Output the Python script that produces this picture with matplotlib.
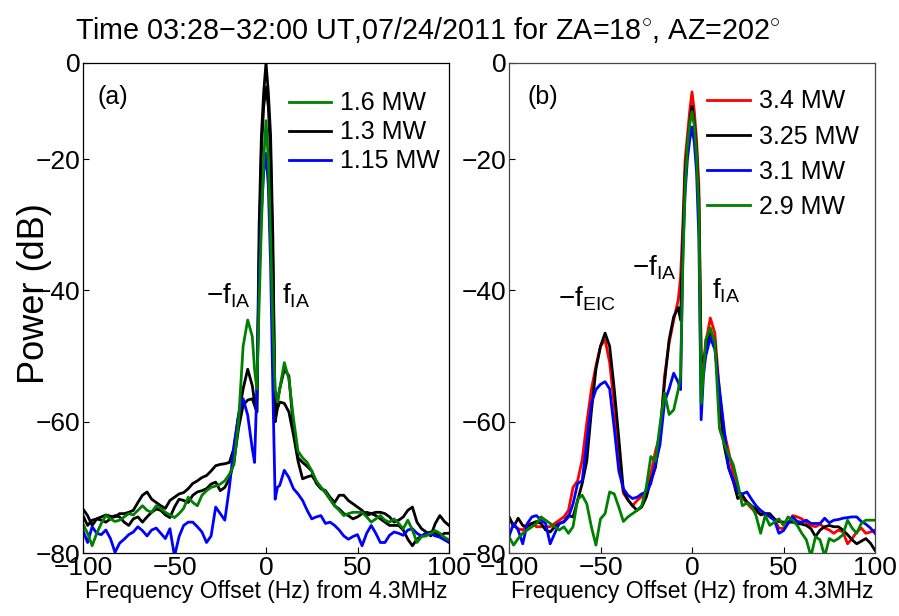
import numpy as np
import matplotlib
matplotlib.use("Agg")
import matplotlib.pyplot as plt

plt.rcParams['font.family'] = ['Liberation Sans', 'DejaVu Sans']
plt.rcParams['mathtext.fontset'] = 'custom'
plt.rcParams['mathtext.rm'] = 'Liberation Sans'
plt.rcParams['mathtext.it'] = 'Liberation Sans:italic'
plt.rcParams['axes.unicode_minus'] = True

# Frequency grid (Hz offset from 4.3 MHz): 2.5 Hz in the wings, 1.25 Hz around the carrier
freq = np.concatenate([np.arange(-100, -9.9, 2.5),
                       np.arange(-7.5, 7.51, 1.25),
                       np.arange(10, 100.1, 2.5)])

# ---- Panel (a) spectra, dB ----
p16 = [-75.6, -77, -78.9, -77, -75.5, -74.3, -74.8, -75.2, -75, -74.5,
       -74, -74.2, -73.5, -72.8, -73.5, -73.8, -72.8, -73.2, -73.8, -74.2,
       -74.6, -74, -73.2, -71.5, -72.3, -72.8, -71.2, -70.5, -70, -69.8,
       -69.5, -69, -68, -66.5, -60, -48.5, -44.5,
       -47, -52, -55, -42, -30, -20, -12, -20, -32, -45, -55, -57, -55,
       -51, -53.5, -59.5, -64.5, -65.5, -66.2, -67.5, -69, -70, -70.7,
       -71.8, -72.8, -73.5, -74.3, -74, -73.8, -73.8, -73.8, -74.5, -75.3,
       -74.8, -74.3, -75, -75.3, -74.8, -75.5, -76.3, -75, -76.5, -78.4,
       -77.5, -77.4, -77, -76.6, -77, -77.6, -78]

p13a = [-73.3, -74.3, -75.8, -74.8, -74.5, -74.2, -74.4, -74.5, -74, -74,
        -73.8, -73.5, -72.3, -71.2, -70.7, -71.8, -72.3, -72.8, -73.2, -72,
        -71.5, -71, -70.8, -70.2, -69.4, -69, -68.5, -68.2, -67.5, -66.7,
        -66.5, -66.4, -66.2, -64, -59, -55, -52,
        -54.5, -57, -58.5, -30, -15, -6, 0, -6, -15, -32, -59.5, -57, -55,
        -52, -53, -61, -65.5, -66.2, -66.8, -67.5, -69.4, -70.2, -70.5,
        -71.5, -72.3, -71.2, -71.2, -72, -72.5, -73, -73.5, -74.3, -74,
        -73.8, -73.8, -74, -74.5, -75.3, -75, -74.5, -73.5, -73, -75.3,
        -76.3, -76.8, -77.4, -75.5, -74.3, -75.2, -75.8]

p13b = [-74.3, -75.8, -75, -74.8, -75, -75.3, -74.8, -74.3, -74.5, -75.3,
        -75.8, -74.8, -74.5, -75.3, -74.5, -73.8, -73.3, -73.5, -74.2, -74.6,
        -73, -71.8, -72, -72.3, -71.2, -70.7, -70.5, -70.2, -69.5, -69.2,
        -70.5, -70, -68.7, -66, -61, -57.5, -56.7,
        -56.5, -57.5, -58.5, -35, -18, -9, -5, -9, -19, -36, -60, -58, -57,
        -57.2, -58.5, -62, -66, -68.7, -68.4, -68.2, -69.2, -70, -70.8,
        -71.8, -72.8, -73.3, -74, -74.3, -74.8, -74.5, -74, -73.8, -74,
        -74.3, -74.8, -75.3, -75.8, -75.8, -75.8, -76.5, -77.9, -78.9, -77.9,
        -77.4, -77, -76.8, -77, -77.4, -77, -77]

p115 = [-76.6, -78.4, -76, -77, -77.2, -76.5, -77.8, -79.9, -78.5, -77.9,
        -77.2, -76.8, -76, -76.6, -77.4, -76.5, -76.2, -77, -77.8, -76.3,
        -80.5, -77.5, -75.8, -75.3, -75.3, -76, -76.8, -78.4, -77.4, -73,
        -74, -75, -70, -63.6, -59, -56.5, -59,
        -64.1, -66.2, -55, -38, -28, -22, -18.8, -24, -36, -55, -71.8, -70, -69.7,
        -67.4, -68.5, -70.2, -71, -72, -73.5, -74.8, -74.5, -74.3, -75.5,
        -75.3, -75.8, -76.5, -77.4, -77.9, -77.5, -77.2, -78.9, -77, -75.8,
        -77, -78.4, -78.4, -77.3, -76.8, -77, -77.3, -76.5, -76.3, -77,
        -77.4, -77, -77.1, -77.4, -77.6, -78, -78.4]

# ---- Panel (b) spectra, dB ----
p34 = [-74.5, -75.8, -76.3, -76.5, -75.6, -75.5, -76, -76, -76, -76,
       -75.5, -75, -74.5, -73.5, -70, -69, -65.8, -60.2, -55.1, -51.5,
       -48.5, -47.5, -51, -57.5, -65.5, -70.9, -71.9, -72.8, -72, -71.4,
       -70.5, -68, -64.5, -62, -53, -48, -44.5,
       -41.4, -38, -30, -20, -15, -10, -6, -10, -16, -24, -50, -52.5, -48,
       -44.2, -46.5, -55.5, -61.5, -64.5, -68, -70.5, -71.6, -72.4, -73.2,
       -73.8, -74, -74, -74.2, -74.8, -76.2, -76.3, -75.5, -74.3, -74.5,
       -74.8, -75.4, -75.8, -76, -75.6, -76.2, -76.5, -77, -76.5, -76.8,
       -78.6, -77.8, -76.8, -76.2, -77, -76.8, -76.5]

p325 = [-74.5, -76, -74.7, -75.8, -76, -75.5, -75.2, -75.5, -76.5, -76.8,
        -76, -75.5, -75.2, -74.3, -74.5, -72, -69.4, -66, -58.5, -52,
        -48.5, -46.5, -48.5, -55, -62.5, -70.5, -71.9, -72.8, -73.5, -73,
        -71.5, -69, -67, -62, -54, -47.5, -44,
        -42.6, -44.5, -32, -22, -17, -12.5, -9, -12.5, -18, -26, -51, -50.5, -49,
        -46.2, -48, -57, -63.5, -67, -69, -71.7, -71.2, -72.2, -72.8,
        -73.3, -74.2, -74, -74, -74.8, -75.2, -75.3, -75.3, -75.3, -75.5,
        -75.6, -75.8, -76.3, -77.5, -76.5, -76, -75.8, -76, -76, -76.5,
        -77.2, -78, -78.6, -78.2, -77.8, -78.5, -79.6]

p31 = [-77.5, -75.5, -76.5, -78.6, -75.5, -74.5, -74.3, -75, -75.5, -78.6,
       -77, -75.5, -75.3, -74.5, -72.5, -69.4, -69, -63, -57.2, -55.1,
       -54.3, -53.9, -55, -61, -67.5, -70.2, -71.2, -71.7, -71.5, -71,
       -70.7, -69.4, -66.5, -63.5, -57, -55, -52.6,
       -54, -55.1, -34, -25, -20, -16, -13.3, -16.5, -22, -32, -59.7, -53, -50,
       -47.2, -49, -55, -61, -67, -69, -70.7, -71, -70.7, -71.8,
       -72.8, -73.5, -74, -74.5, -75, -77, -76.6, -75.5, -74.5, -75.2,
       -75.3, -75, -75.5, -75.5, -75.5, -74.7, -75.4, -75, -74.9, -74.7,
       -74.6, -74.5, -74.5, -75.2, -75.6, -76.2, -77]

p29 = [-77.5, -78.8, -77.8, -77, -76.5, -76, -75.5, -74.5, -75, -75.5,
       -76, -76.5, -76, -77, -76, -71.8, -71.2, -72.5, -76, -78.8,
       -74.8, -74, -70.7, -71, -73, -75.2, -74.5, -74, -73.5, -72.8,
       -70, -65.3, -66, -60.5, -55.6, -58.9, -58.2,
       -55.1, -53, -36, -24, -17, -12.5, -10.1, -13, -19, -28, -57.2, -52.5, -47.5,
       -45.7, -48, -61, -63.3, -65, -66.5, -69.4, -72.8, -72.4, -72.8,
       -74.3, -77, -74.3, -75.8, -75.3, -74.8, -75.8, -74.5, -75, -75.8,
       -77, -78, -80.5, -77.5, -78, -80.5, -77.8, -78.2, -77.8, -77.2,
       -75, -76.2, -77, -75.5, -75, -75, -75]

legend_a = ['1.6 MW', '1.3 MW', '1.15 MW']
legend_b = ['3.4 MW', '3.25 MW', '3.1 MW', '2.9 MW']
xticks = [-100, -50, 0, 50, 100]
yticks = [-80, -60, -40, -20, 0]

GREEN, BLUE, RED, BLACK = '#008000', '#0000ff', '#ff0000', '#000000'
LW = 2.0


# Power axis: the band above -20 dB is drawn compressed
K = 96.0 / 131.0


def fwd(y):
    y = np.asarray(y, dtype=float)
    return np.where(y > -20, -20 + (y + 20) * K, y)


def inv(y):
    y = np.asarray(y, dtype=float)
    return np.where(y > -20, -20 + (y + 20) / K, y)


fig = plt.figure(figsize=(8.99, 6.16), dpi=100)
W, H = 899.0, 616.0
axa = fig.add_axes([83 / W, 1 - 553 / H, 366 / W, 490 / H])
axb = fig.add_axes([509 / W, 1 - 553 / H, 366 / W, 490 / H])

for ax, spine_col in ((axa, 'black'), (axb, '#444444')):
    ax.set_yscale('function', functions=(fwd, inv))
    ax.set_xlim(-100, 100)
    ax.set_ylim(-80, 0)
    ax.set_xticks(xticks)
    ax.set_yticks(yticks)
    ax.set_xticklabels([str(t).replace('-', '\u2212') for t in xticks])
    ax.set_yticklabels([str(t).replace('-', '\u2212') for t in yticks])
    ax.minorticks_off()
    ax.tick_params(direction='in', length=4, width=0.8, labelsize=19, pad=2,
                   colors='black')
    for s in ax.spines.values():
        s.set_color(spine_col)
        s.set_linewidth(0.9)
    ax.set_xlabel('Frequency Offset (Hz) from 4.3MHz', fontsize=16.5, labelpad=0)

# Panel (a)
l13a, = axa.plot(freq, p13a, color=BLACK, lw=LW)
axa.plot(freq, p13b, color=BLACK, lw=LW)
l115, = axa.plot(freq, p115, color=BLUE, lw=LW)
l16, = axa.plot(freq, p16, color=GREEN, lw=LW)
axa.legend([l16, l13a, l115], legend_a, loc='upper right',
           bbox_to_anchor=(0.975, 0.942), frameon=False, fontsize=18,
           handlelength=1.7, handletextpad=0.35, labelspacing=0.2,
           borderpad=0, borderaxespad=0)
axa.text(0.04, 0.93, '(a)', transform=axa.transAxes, fontsize=18,
         ha='left', va='center')
axa.text(-33, -42, '\u2212f$_{\\mathrm{IA}}$', fontsize=20, ha='left', va='baseline')
axa.text(8.5, -42, 'f$_{\\mathrm{IA}}$', fontsize=20, ha='left', va='baseline')

# Panel (b)
l34, = axb.plot(freq, p34, color=RED, lw=LW)
l325, = axb.plot(freq, p325, color=BLACK, lw=LW)
l31, = axb.plot(freq, p31, color=BLUE, lw=LW)
l29, = axb.plot(freq, p29, color=GREEN, lw=LW)
axb.legend([l34, l325, l31, l29], legend_b, loc='upper right',
           bbox_to_anchor=(0.955, 0.946), frameon=False, fontsize=18,
           handlelength=1.7, handletextpad=0.35, labelspacing=0.45,
           borderpad=0, borderaxespad=0)
axb.text(0.05, 0.93, '(b)', transform=axb.transAxes, fontsize=18,
         ha='left', va='center')
axb.text(-73, -42.4, '\u2212f$_{\\mathrm{EIC}}$', fontsize=20, ha='left', va='baseline')
axb.text(-33, -37.7, '\u2212f$_{\\mathrm{IA}}$', fontsize=20, ha='left', va='baseline')
axb.text(11, -41.2, 'f$_{\\mathrm{IA}}$', fontsize=20, ha='left', va='baseline')

fig.text(35 / W, 1 - 294 / H, 'Power (dB)', rotation=90, fontsize=26,
         ha='center', va='center')
fig.text(428 / W, 1 - 30 / H,
         'Time 03:28\u221232:00 UT,07/24/2011 for ZA=18$^{\\circ}$, AZ=202$^{\\circ}$',
         fontsize=20.7, ha='center', va='center')

fig.savefig('out.png', dpi=100)
